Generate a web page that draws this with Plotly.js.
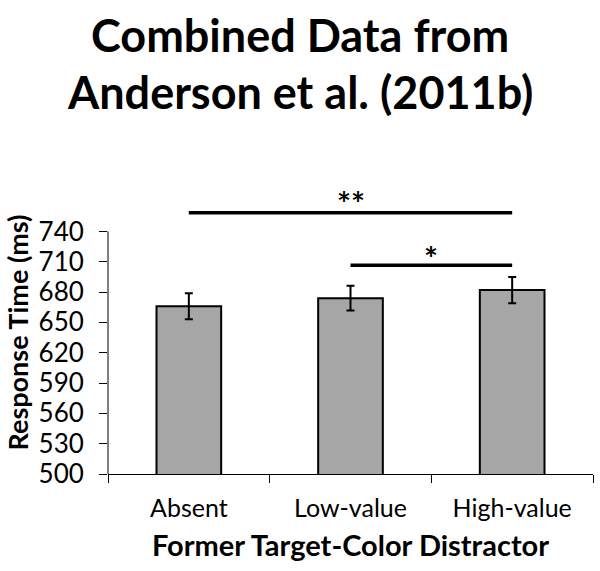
<!DOCTYPE html>
<html><head><meta charset="utf-8">
<script src="https://cdn.plot.ly/plotly-3.0.1.min.js"></script>
<style>body{margin:0;background:#fff}#c{width:600px;height:571px}</style>
</head><body><div id="c"></div>
<script>
const categories = ["Absent", "Low-value", "High-value"];
const meanRT = [666, 674, 682];
const errRT = [12.8, 12.2, 13];
const yTicks = [500, 530, 560, 590, 620, 650, 680, 710, 740];
const sigFrom = [0, 1];
const sigTo = [2, 2];
const sigY = [758.5, 706.5];
const sigLabel = ["**", "*"];
const sigLabelY = [768, 714];
const titleLines = ["Combined Data from", "Anderson et al. (2011b)"];

const font = "Lato, 'Open Sans', sans-serif";
const shapes = [];
const annotations = [];
for (let i = 0; i < sigFrom.length; i++) {
  shapes.push({type: "line", xref: "x", yref: "y", x0: sigFrom[i], x1: sigTo[i], y0: sigY[i], y1: sigY[i],
    line: {color: "#000", width: 3.5}});
  annotations.push({xref: "x", yref: "y", x: (sigFrom[i] + sigTo[i]) / 2, y: sigLabelY[i], text: "<b>" + sigLabel[i] + "</b>",
    showarrow: false, font: {family: font, size: 33, color: "#000"}});
}
// title lines, centred on the page
const titleYpx = [35, 92];
titleLines.forEach((t, i) => {
  annotations.push({xref: "paper", yref: "paper", x: (300 - 108) / 485, xanchor: "center",
    y: 1 + (191 - titleYpx[i]) / 283, yanchor: "middle", text: "<b>" + t + "</b>", showarrow: false,
    font: {family: font, size: 45, color: "#000"}});
});
// y axis line only up to the top tick
shapes.push({type: "line", xref: "paper", yref: "y", x0: 0, x1: 0, y0: yTicks[0], y1: yTicks[yTicks.length - 1],
  line: {color: "#000", width: 1}});

Plotly.newPlot("c", [{
  type: "bar", x: categories, y: meanRT, width: 0.4,
  marker: {color: "#a6a6a6", line: {color: "#000", width: 2}},
  error_y: {type: "data", array: errRT, visible: true, color: "#000", thickness: 2, width: 4}
}], {
  width: 600, height: 571,
  margin: {l: 108, r: 7, t: 191, b: 97},
  paper_bgcolor: "#fff", plot_bgcolor: "#fff",
  showlegend: false,
  xaxis: {type: "category", range: [-0.5, 2.5], showline: true, linecolor: "#000", linewidth: 1,
    ticks: "outside", tickson: "boundaries", ticklen: 8, tickcolor: "#000", showgrid: false,
    ticklabelstandoff: 12,
    tickfont: {family: font, size: 25, color: "#000"},
    title: {text: "<b>Former Target-Color Distractor</b>", font: {family: font, size: 29, color: "#000"}, standoff: 14}},
  yaxis: {range: [500, 780], tickvals: yTicks, ticktext: yTicks.map(String), showline: false,
    ticks: "outside", ticklen: 8, tickcolor: "#000", showgrid: false, zeroline: false,
    ticklabelstandoff: 10,
    tickfont: {family: font, size: 26, color: "#000"},
    title: {text: "<b>Response Time (ms)</b>", font: {family: font, size: 27, color: "#000"}, standoff: 2}},
  shapes: shapes, annotations: annotations
}, {displayModeBar: false, staticPlot: true});
</script></body></html>
